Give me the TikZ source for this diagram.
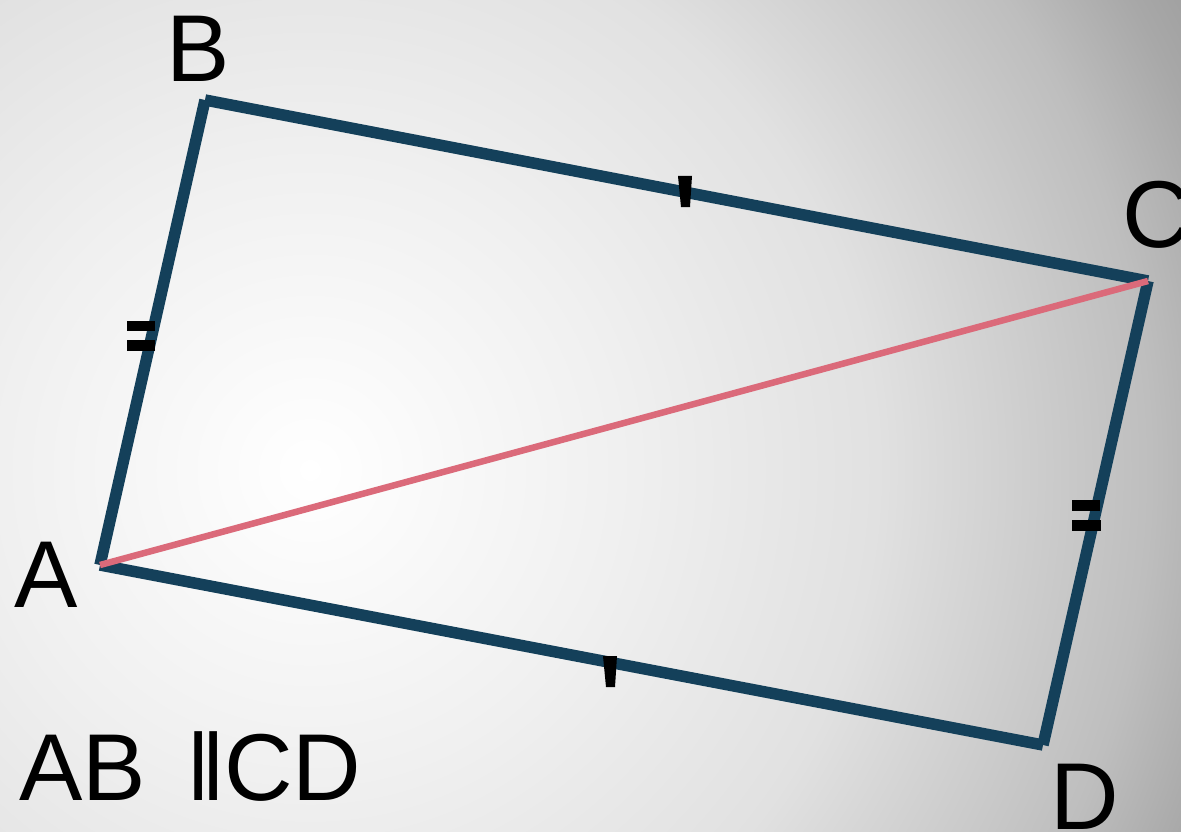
\documentclass[tikz,border=0pt]{standalone}
\usepackage{fontspec}
\setmainfont{Liberation Sans}
\definecolor{pblue}{RGB}{20,64,90}
\definecolor{prose}{RGB}{219,106,122}
\definecolor{bgA}{RGB}{240,240,240}
\definecolor{bgB}{RGB}{225,225,225}
\definecolor{bgC}{RGB}{190,190,190}
\definecolor{bgD}{RGB}{168,168,168}
\definecolor{bgE}{RGB}{145,145,145}
\pgfdeclareradialshading{bgshade}{\pgfpoint{0bp}{0bp}}{%
  color(0bp)=(white); color(7bp)=(bgA); color(12.9bp)=(bgB);
  color(19.1bp)=(bgC); color(21.5bp)=(bgD); color(25bp)=(bgE);
  color(50bp)=(bgE)}
\tikzset{
  % sides of the parallelogram
  Side/.style={line width=11.5pt,color=pblue},
  % diagonal AC
  Diag/.style={line width=6.5pt,color=prose},
  % equal-length marks
  Tick/.style={fill=black},
  % vertex letters and caption
  Lbl/.style={font=\fontsize{95}{95}\selectfont,inner sep=0pt,anchor=base west},
}

\begin{document}
\begin{tikzpicture}[x=1pt,y=-1pt]
  \useasboundingbox (0,0) rectangle (1181,832);
  \begin{scope}
    \clip (0,0) rectangle (1181,832);
    \shade[shading=bgshade] (310,470) circle (1100);
  \end{scope}
  % vertices
  \coordinate (A) at (100,565);
  \coordinate (B) at (205,100);
  \coordinate (C) at (1148,281);
  \coordinate (D) at (1043,745);
  % sides
  \draw[Side] (A)--(B);
  \draw[Side] (B)--(C);
  \draw[Side] (C)--(D);
  \draw[Side] (D)--(A);
  \draw[Diag] (A)--(C);
  % marks
  \fill[Tick] (678,176)--(692,176)--(690,207)--(681,207)--cycle;
  \fill[Tick] (603,656)--(617,656)--(615,687)--(606,687)--cycle;
  \fill[Tick] (127,321) rectangle (155,331);
  \fill[Tick] (127,340) rectangle (155,351);
  \fill[Tick] (1072,500) rectangle (1100,511);
  \fill[Tick] (1072,520) rectangle (1101,531);
  % labels
  \node[Lbl] (lA) at (14,607) {A};
  \node[Lbl] (lB) at (166,82) {B};
  \node[Lbl] (lC) at (1122,247) {C};
  \node[Lbl] (lD) at (1050,829) {D};
  \node[Lbl] (cap) at (19,800) {AB\hspace{41pt}‖\hspace{-2pt}CD};
\end{tikzpicture}
\end{document}
